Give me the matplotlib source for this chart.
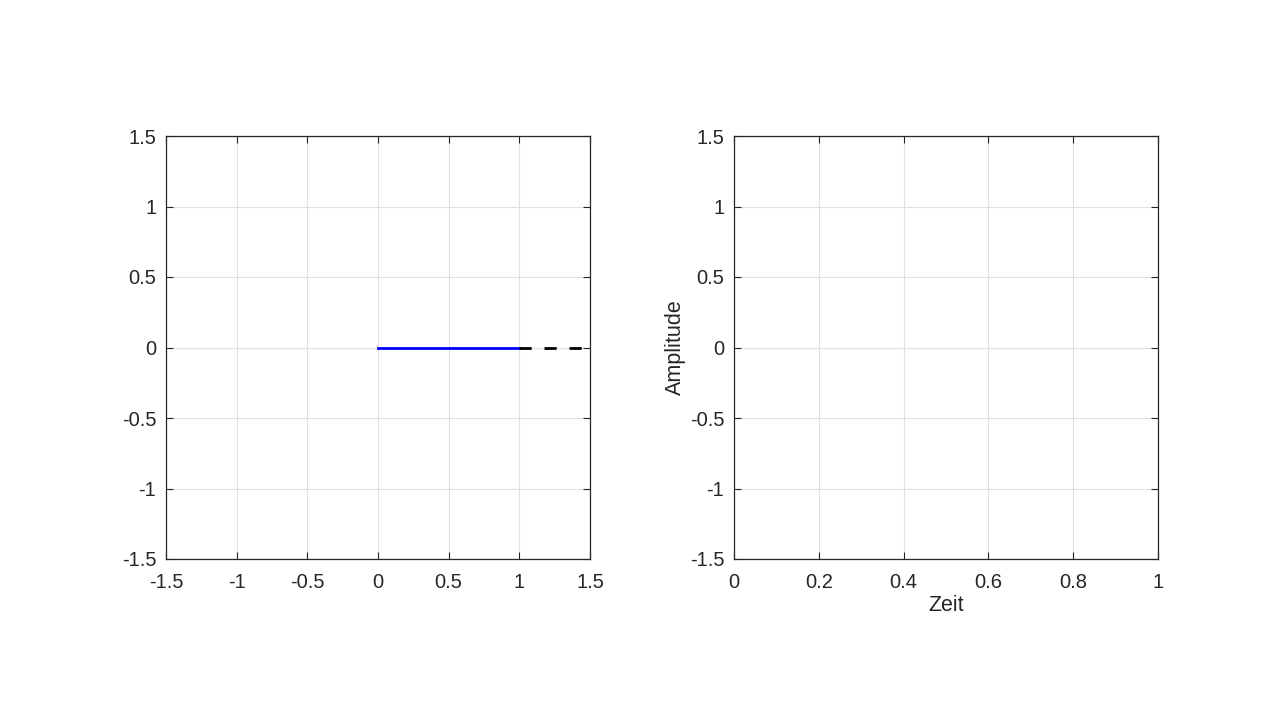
import matplotlib.pyplot as plt

plt.rcParams['font.family'] = ['Liberation Sans', 'DejaVu Sans']

# data
signal_x = [0, 1]
signal_y = [0, 0]
rest_x = [1, 1.5]
rest_y = [0, 0]

left_ticks = [-1.5, -1, -0.5, 0, 0.5, 1, 1.5]
left_labels = ['-1.5', '-1', '-0.5', '0', '0.5', '1', '1.5']
right_xticks = [0, 0.2, 0.4, 0.6, 0.8, 1]
right_xlabels = ['0', '0.2', '0.4', '0.6', '0.8', '1']

fig = plt.figure(figsize=(12.8, 7.2), dpi=100)
ax1 = fig.add_axes([166/1280, 161/720, 424/1280, 423/720])
ax2 = fig.add_axes([734/1280, 161/720, 424/1280, 423/720])


def style(ax):
    ax.grid(True, color='#e0e0e0', linewidth=0.8)
    ax.set_axisbelow(True)
    ax.tick_params(direction='in', top=True, right=True, length=5,
                   labelsize=14.5, colors='#262626', width=0.8)
    ax.tick_params(axis='x', pad=10)
    ax.tick_params(axis='y', pad=7)
    for s in ax.spines.values():
        s.set_color('#262626')
        s.set_linewidth(0.9)


# ----- ax1 -----
ax1.plot(signal_x, signal_y, color='#0000ff', linewidth=2)
ax1.plot(rest_x, rest_y, color='black', linewidth=2, linestyle=(0, (4.4, 4.6)))
ax1.set_xlim(-1.5, 1.5)
ax1.set_ylim(-1.5, 1.5)
ax1.set_xticks(left_ticks)
ax1.set_xticklabels(left_labels)
ax1.set_yticks(left_ticks)
ax1.set_yticklabels(left_labels)
style(ax1)

# ----- ax2 -----
ax2.set_xlim(0, 1)
ax2.set_ylim(-1.5, 1.5)
ax2.set_xticks(right_xticks)
ax2.set_xticklabels(right_xlabels)
ax2.set_yticks(left_ticks)
ax2.set_yticklabels(left_labels)
ax2.set_xlabel('Zeit', fontsize=15.5, color='#262626', labelpad=2)
ax2.set_ylabel('Amplitude', fontsize=15.5, color='#262626', labelpad=3)
style(ax2)

fig.savefig('out.png', dpi=100)
